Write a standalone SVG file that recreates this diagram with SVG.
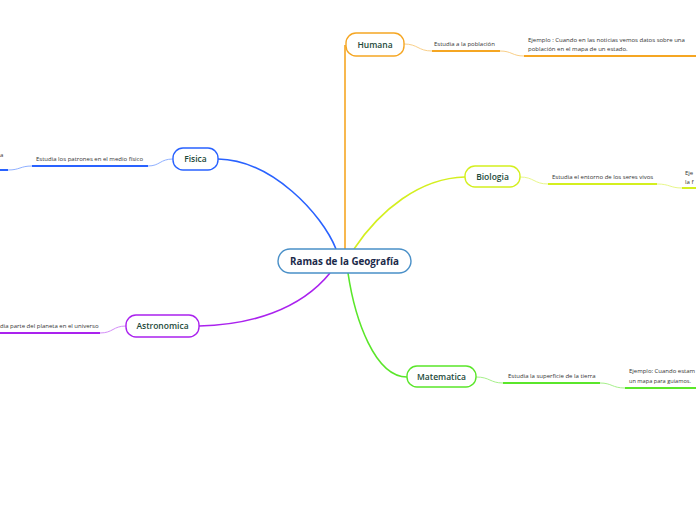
<svg xmlns="http://www.w3.org/2000/svg" width="696" height="520" viewBox="0 0 696 520">
<style>
.node{fill:#ffffff;stroke-width:1.4}
.lbl{font-family:"Open Sans","Liberation Sans",sans-serif;font-weight:600;font-size:8.5px;fill:#1d4a3a;text-anchor:middle}
.main{font-family:"Open Sans","Liberation Sans",sans-serif;font-weight:700;font-size:9.8px;fill:#1b2a4a;text-anchor:middle}
.sub{font-family:"Open Sans","Liberation Sans",sans-serif;font-size:6px;fill:#333333}
.br{fill:none;stroke-width:1.6}
.thin{fill:none;stroke-width:1}
.ul{fill:none;stroke-width:2}
</style>
<rect width="696" height="520" fill="#ffffff"/>
<g id="connectors">
  <path class="br" stroke="#f5a623" stroke-width="2" d="M345,249 L345,45"/>
  <path class="br" stroke="#2962ff" d="M336,249 C322,214 272,160 218,159"/>
  <path class="br" stroke="#d4ef1f" d="M354,249 C380,210 420,178 465,177"/>
  <path class="br" stroke="#aa22ee" d="M330,273 C300,310 250,325 199,326"/>
  <path class="br" stroke="#5ae62a" d="M348,273 C355,320 375,377 407,377"/>
  <path class="thin" stroke="#f9cf88" d="M404,44 C418,44 418,51 432,51"/>
  <path class="ul" stroke="#f5a623" d="M432,51 L500,51"/>
  <path class="thin" stroke="#f9cf88" d="M500,51 C512,51 512,56 524,56"/>
  <path class="ul" stroke="#f5a623" d="M524,56 L696,56"/>
  <path class="thin" stroke="#8fb0ff" d="M173,159 C160,159 160,166 148,166"/>
  <path class="ul" stroke="#2962ff" d="M148,166 L32,166"/>
  <path class="thin" stroke="#8fb0ff" d="M32,166 C20,166 20,170 8,170"/>
  <path class="ul" stroke="#2962ff" d="M8,170 L0,170"/>
  <path class="thin" stroke="#e8f78a" d="M520,177 C534,177 534,184 548,184"/>
  <path class="ul" stroke="#d4ef1f" d="M548,184 L657,184"/>
  <path class="thin" stroke="#e8f78a" d="M657,184 C670,184 670,188 682,188"/>
  <path class="ul" stroke="#d4ef1f" d="M682,188 L696,188"/>
  <path class="thin" stroke="#d38cf7" d="M126,326 C113,326 113,333 100,333"/>
  <path class="ul" stroke="#aa22ee" d="M100,333 L0,333"/>
  <path class="thin" stroke="#a6f08a" d="M476,377 C490,377 490,383 503,383"/>
  <path class="ul" stroke="#5ae62a" d="M503,383 L600,383"/>
  <path class="thin" stroke="#a6f08a" d="M600,383 C612,383 612,388 625,388"/>
  <path class="ul" stroke="#5ae62a" d="M625,388 L696,388"/>
</g>
<g id="central">
  <rect class="node" stroke="#4a90c8" x="278" y="249" width="133" height="24" rx="12"/>
  <text class="main" x="344.5" y="264.5">Ramas de la Geografía</text>
</g>
<g id="humana">
  <rect class="node" stroke="#f5a623" x="346" y="33" width="58" height="23" rx="10"/>
  <text class="lbl" x="375" y="47.5">Humana</text>
</g>
<g id="humana-sub">
  <text class="sub" x="434" y="46">Estudia a la población</text>
</g>
<g id="humana-ej">
  <text class="sub" x="528" y="42">Ejemplo : Cuando en las noticias vemos datos sobre una</text>
  <text class="sub" x="528" y="51">población en el mapa de un estado.</text>
</g>
<g id="fisica">
  <rect class="node" stroke="#2962ff" x="173" y="148" width="45" height="22" rx="10"/>
  <text class="lbl" x="195.5" y="162">Fisica</text>
</g>
<g id="fisica-sub">
  <text class="sub" x="36" y="161">Estudia los patrones en el medio físico</text>
</g>
<g id="fisica-ej">
  <text class="sub" x="0" y="157">a</text>
</g>
<g id="biologia">
  <rect class="node" stroke="#d4ef1f" x="465" y="166" width="55" height="21" rx="10"/>
  <text class="lbl" x="492.5" y="179.5">Biologia</text>
</g>
<g id="biologia-sub">
  <text class="sub" x="552" y="179">Estudia el entorno de los seres vivos</text>
</g>
<g id="biologia-ej">
  <text class="sub" x="685" y="175">Eje</text>
  <text class="sub" x="685" y="184">la f</text>
</g>
<g id="astronomica">
  <rect class="node" stroke="#aa22ee" x="126" y="315" width="73" height="22" rx="10"/>
  <text class="lbl" x="162.5" y="329">Astronomica</text>
</g>
<g id="astronomica-sub">
  <text class="sub" x="0" y="328">dia parte del planeta en el universo</text>
</g>
<g id="matematica">
  <rect class="node" stroke="#5ae62a" x="407" y="366" width="69" height="21" rx="10"/>
  <text class="lbl" x="441.5" y="379.5">Matematica</text>
</g>
<g id="matematica-sub">
  <text class="sub" x="508" y="378">Estudia la superficie de la tierra</text>
</g>
<g id="matematica-ej">
  <text class="sub" x="629" y="373" textLength="66" lengthAdjust="spacingAndGlyphs">Ejemplo: Cuando  estam</text>
  <text class="sub" x="629" y="383" textLength="62" lengthAdjust="spacingAndGlyphs">un mapa para guiamos.</text>
</g>
</svg>
